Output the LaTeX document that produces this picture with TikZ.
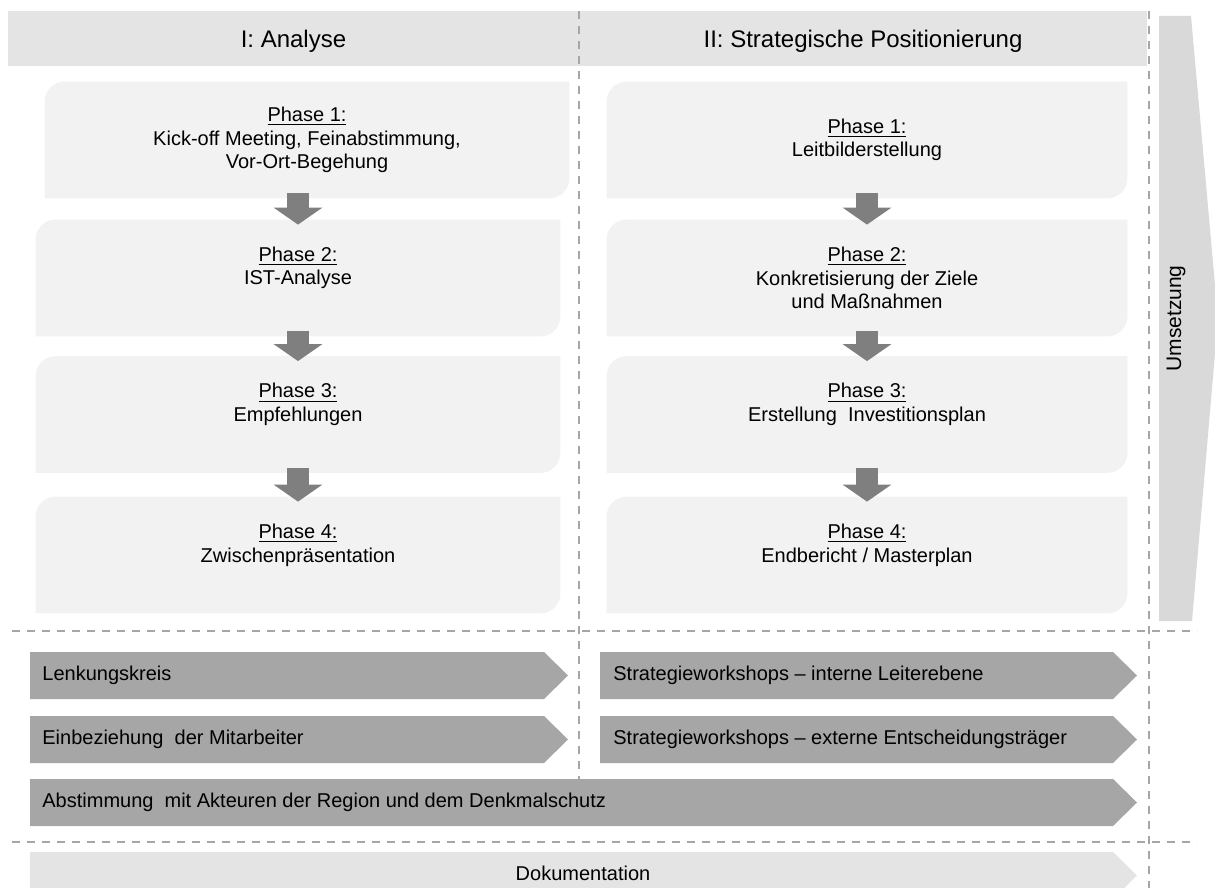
\documentclass[tikz,border=0pt]{standalone}
\usepackage{fontspec}
\setmainfont{Liberation Sans}
\usetikzlibrary{arrows.meta,backgrounds}

\definecolor{kopfgrau}{HTML}{E4E4E4}
\definecolor{phasengrau}{HTML}{F2F2F2}
\definecolor{pfeilgrau}{HTML}{7F7F7F}
\definecolor{balkengrau}{HTML}{A6A6A6}
\definecolor{umsetzgrau}{HTML}{D9D9D9}
\definecolor{linie}{HTML}{A6A6A6}

\tikzset{
  kopf/.style={fill=kopfgrau, minimum height=27.5pt, inner sep=0pt, text depth=0pt, font=\fontsize{12}{14}\selectfont},
  phase/.style={minimum width=262pt, minimum height=58pt, inner sep=0pt, align=center, font=\fontsize{10}{11.75}\selectfont},
  hoch/.style={text depth=12pt},
  schritt/.style={draw=pfeilgrau, line width=11pt, shorten <=-2.5pt, shorten >=-2.5pt, -{Triangle[width=24pt,length=8.5pt]}},
  balkentext/.style={anchor=west, inner sep=0pt, font=\fontsize{10}{12}\selectfont},
  trenner/.style={draw=linie, line width=0.65pt, dash pattern=on 4pt off 3.5pt},
}

\begin{document}
\begin{tikzpicture}[x=0.5pt,y=-0.5pt]
\useasboundingbox (0,0) rectangle (1215,888);

% Kopfzeile
\node[kopf, minimum width=285.5pt] (kopfA) at (293.5,38.5) {I: Analyse};
\node[kopf, minimum width=284pt] (kopfB) at (863,38.5) {II: Strategische Positionierung};

% Umsetzung
\fill[umsetzgrau] (1159,16) -- (1191,16) -- (1218,318.5) -- (1192,621) -- (1159,621) -- cycle;
\node[rotate=90, font=\fontsize{10.5}{12}\selectfont] (umsetz) at (1176,318.5) {Umsetzung};

% Phasen Analyse
\node[phase] (a1) at (307,140) {\underline{Phase 1:}\\Kick-off Meeting, Feinabstimmung,\\Vor-Ort-Begehung};
\node[phase, hoch] (a2) at (298,278) {\underline{Phase 2:}\\IST-Analyse};
\node[phase, hoch] (a3) at (298,414.5) {\underline{Phase 3:}\\Empfehlungen};
\node[phase, hoch] (a4) at (298,555) {\underline{Phase 4:}\\Zwischenpräsentation};

% Phasen Positionierung
\node[phase, minimum width=260pt] (b1) at (867,140) {\underline{Phase 1:}\\Leitbilderstellung};
\node[phase, minimum width=260pt] (b2) at (867,278) {\underline{Phase 2:}\\Konkretisierung der Ziele\\und Maßnahmen};
\node[phase, hoch, minimum width=260pt] (b3) at (867,414.5) {\underline{Phase 3:}\\Erstellung~ Investitionsplan};
\node[phase, hoch, minimum width=260pt] (b4) at (867,555) {\underline{Phase 4:}\\Endbericht / Masterplan};

\begin{scope}[on background layer]
\foreach \b in {a1,a2,a3,a4,b1,b2,b3,b4}
  \fill[phasengrau] (\b.south west) -- ([yshift=-10pt]\b.north west)
    arc[start angle=180, end angle=90, radius=10pt] -- (\b.north east)
    -- ([yshift=10pt]\b.south east) arc[start angle=0, end angle=-90, radius=10pt] -- cycle;
\end{scope}

\draw[schritt] (a1.south -| a2.north) -- (a2.north);
\draw[schritt] (a2.south) -- (a3.north);
\draw[schritt] (a3.south) -- (a4.north);
\draw[schritt] (b1.south) -- (b2.north);
\draw[schritt] (b2.south) -- (b3.north);
\draw[schritt] (b3.south) -- (b4.north);

% Trennlinien
\draw[trenner] (579,11) -- (579,779);
\draw[trenner] (1149,11) -- (1149,888);
\draw[trenner] (12,631) -- (1197,631);
\draw[trenner] (12,842) -- (1197,842);

% Begleitende Prozesse
\fill[balkengrau] (30,652) -- (544,652) -- (568,675.5) -- (544,699) -- (30,699) -- cycle;
\node[balkentext] (lenk) at (42,675.5) {Lenkungskreis};
\fill[balkengrau] (30,716) -- (544,716) -- (568,739.5) -- (544,763) -- (30,763) -- cycle;
\node[balkentext] (mitarb) at (42,739.5) {Einbeziehung~ der Mitarbeiter};
\fill[balkengrau] (600,652) -- (1113,652) -- (1137,675.5) -- (1113,699) -- (600,699) -- cycle;
\node[balkentext] (intern) at (613,675.5) {Strategieworkshops -- interne Leiterebene};
\fill[balkengrau] (600,716) -- (1113,716) -- (1137,739.5) -- (1113,763) -- (600,763) -- cycle;
\node[balkentext] (extern) at (613,739.5) {Strategieworkshops -- externe Entscheidungsträger};
\fill[balkengrau] (30,779) -- (1113,779) -- (1137,802.5) -- (1113,826) -- (30,826) -- cycle;
\node[balkentext] (akteure) at (42,802.5) {Abstimmung~ mit Akteuren der Region und dem Denkmalschutz};

% Dokumentation
\fill[kopfgrau] (30,852) -- (1113,852) -- (1137,875.5) -- (1113,899) -- (30,899) -- cycle;
\node[font=\fontsize{10}{12}\selectfont] (doku) at (583,873) {Dokumentation};
\end{tikzpicture}
\end{document}
